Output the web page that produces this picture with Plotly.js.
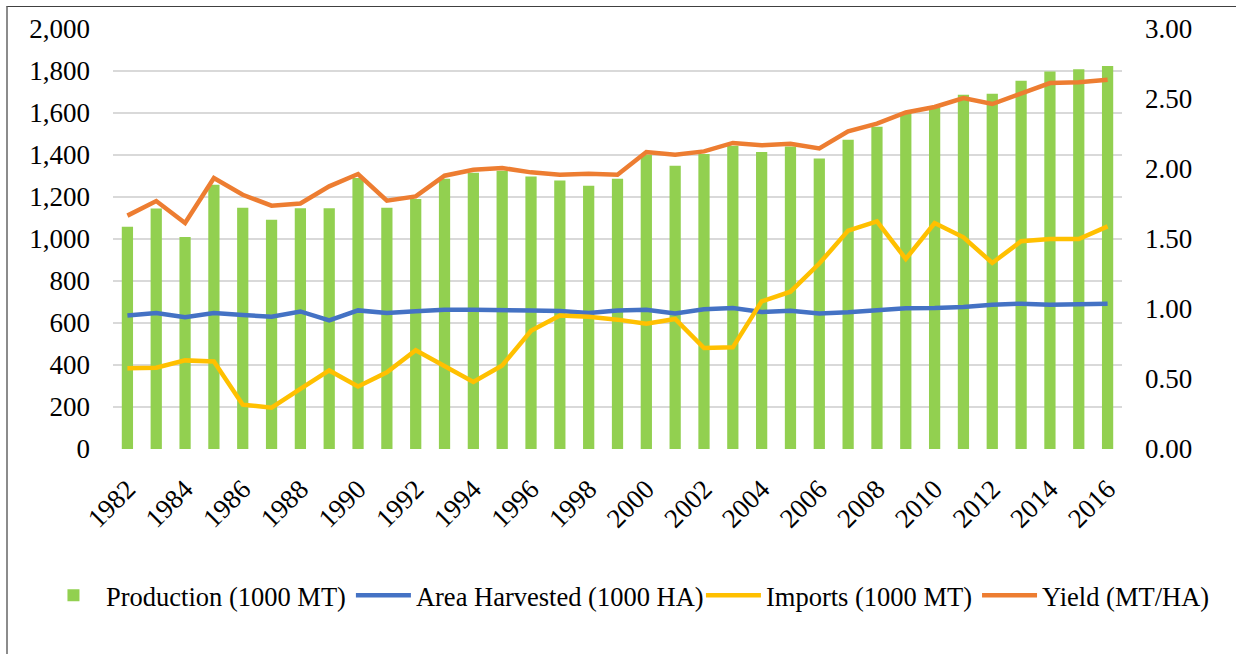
<!DOCTYPE html>
<html>
<head>
<meta charset="utf-8">
<script src="https://cdn.plot.ly/plotly-3.0.1.min.js"></script>
<style>
  html, body { margin: 0; padding: 0; background: #ffffff; }
  #wrap { position: relative; width: 1236px; height: 654px; overflow: hidden; }
  #chart { width: 1236px; height: 654px; }
  #frame { position: absolute; left: 6px; top: 6px; width: 1240px; height: 660px;
           border-left: 2px solid #8c8c8c; border-top: 1px solid #404040; pointer-events: none; }
</style>
</head>
<body>
<div id="wrap">
  <div id="chart"></div>
  <div id="frame"></div>
</div>
<script>
const years = [1982,1983,1984,1985,1986,1987,1988,1989,1990,1991,1992,1993,1994,1995,1996,1997,1998,1999,2000,2001,2002,2003,2004,2005,2006,2007,2008,2009,2010,2011,2012,2013,2014,2015,2016];

const production = [1058,1145,1010,1258,1149,1092,1146,1146,1290,1149,1190,1287,1316,1325,1298,1278,1254,1287,1402,1349,1405,1444,1414,1440,1383,1473,1535,1600,1627,1687,1692,1754,1798,1808,1824];

const areaHarvested = [636,648,627,648,638,630,655,612,660,648,656,663,663,663,660,657,648,660,663,645,665,671,652,658,645,651,660,670,671,676,687,692,687,690,692];

const imports = [384,387,422,417,211,197,286,374,298,365,470,393,319,398,563,636,630,616,597,619,481,484,703,749,883,1040,1084,905,1076,1008,886,989,1000,1000,1060];

const yieldMtHa = [1.667,1.771,1.614,1.936,1.816,1.738,1.754,1.876,1.964,1.774,1.804,1.952,1.995,2.007,1.976,1.959,1.966,1.959,2.121,2.102,2.126,2.186,2.169,2.181,2.147,2.269,2.324,2.404,2.443,2.507,2.464,2.543,2.614,2.619,2.638];

const seriesNames = ["Production (1000 MT)", "Area Harvested (1000 HA)", "Imports (1000 MT)", "Yield (MT/HA)"];

const FONT = "Liberation Serif";

const traces = [
  { type: "bar", x: years, y: production, name: seriesNames[0],
    marker: { color: "#92D050" }, yaxis: "y", legend: "legend" },
  { type: "scatter", mode: "lines", x: years, y: areaHarvested, name: seriesNames[1],
    line: { color: "#4472C4", width: 4.5 }, yaxis: "y", legend: "legend" },
  { type: "scatter", mode: "lines", x: years, y: imports, name: seriesNames[2],
    line: { color: "#FFC000", width: 4.5 }, yaxis: "y", legend: "legend2" },
  { type: "scatter", mode: "lines", x: years, y: yieldMtHa, name: seriesNames[3],
    line: { color: "#ED7D31", width: 4.5 }, yaxis: "y2", legend: "legend2" }
];

const legendCommon = {
  orientation: "h", xanchor: "left", y: -0.349, yanchor: "middle",
  font: { family: FONT, size: 26.5, color: "#000000" }, itemwidth: 55,
  traceorder: "normal", bgcolor: "rgba(0,0,0,0)", borderwidth: 0
};

const layout = {
  width: 1236, height: 654,
  margin: { l: 113, r: 114, t: 29, b: 205, pad: 0 },
  paper_bgcolor: "#ffffff", plot_bgcolor: "#ffffff",
  font: { family: FONT, size: 27, color: "#000000" },
  bargap: 0.61,
  showlegend: true,
  legend: Object.assign({}, legendCommon, { x: -0.0714 }),
  legend2: Object.assign({}, legendCommon, { x: 0.5827 }),
  xaxis: { type: "linear", range: [1981.5, 2016.5], tick0: 1982, dtick: 2,
           tickangle: -45, showgrid: false, zeroline: false, showline: false,
           ticks: "", tickfont: { family: FONT, size: 27 }, ticklabelstandoff: 18 },
  yaxis: { range: [0, 2000], dtick: 200, tickformat: ",d", showgrid: true,
           gridcolor: "#d9d9d9", gridwidth: 1.5, zeroline: false, showline: false,
           ticks: "", ticklabelstandoff: 22, tickfont: { family: FONT, size: 27 } },
  yaxis2: { range: [0, 3], dtick: 0.5, tickformat: ".2f", overlaying: "y", side: "right",
            showgrid: false, zeroline: false, showline: false, ticks: "",
            ticklabelstandoff: 22, tickfont: { family: FONT, size: 27 } },
  hovermode: false
};

Plotly.newPlot("chart", traces, layout, { displayModeBar: false, staticPlot: true });
</script>
</body>
</html>
